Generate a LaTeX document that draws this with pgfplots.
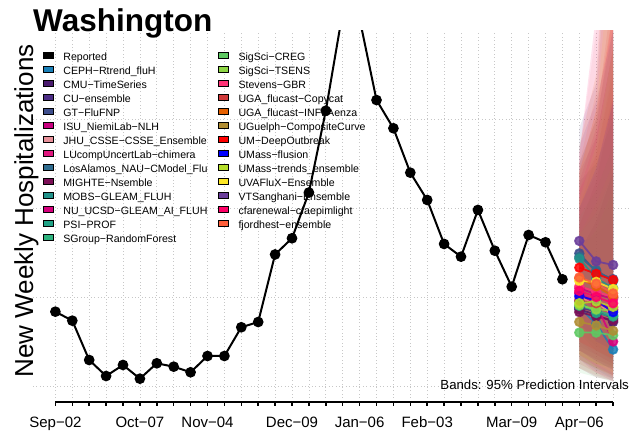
\documentclass[border=0pt]{standalone}
\usepackage{fontspec}
\setmainfont{Liberation Sans}
\usepackage{pgfplots}
\pgfplotsset{compat=1.18}
\definecolor{cCEPH}{HTML}{1A80B8}
\definecolor{cCMU}{HTML}{4A1A6E}
\definecolor{cCU}{HTML}{4B2C85}
\definecolor{cGT}{HTML}{3E4E8C}
\definecolor{cISU}{HTML}{C8007F}
\definecolor{cJHU}{HTML}{E8919A}
\definecolor{cLU}{HTML}{E0177F}
\definecolor{cLA}{HTML}{2E6B8E}
\definecolor{cMIG}{HTML}{7B0F56}
\definecolor{cMOBS}{HTML}{21928A}
\definecolor{cNU}{HTML}{D6007D}
\definecolor{cPSI}{HTML}{20A386}
\definecolor{cSG}{HTML}{2DB27D}
\definecolor{cSSC}{HTML}{5EC962}
\definecolor{cSST}{HTML}{8ED645}
\definecolor{cSTE}{HTML}{FF3377}
\definecolor{cUGAC}{HTML}{D03A3A}
\definecolor{cUGAI}{HTML}{E66101}
\definecolor{cUGU}{HTML}{B08D33}
\definecolor{cUM}{HTML}{FF0000}
\definecolor{cUMF}{HTML}{0000FF}
\definecolor{cUMT}{HTML}{B5DE2B}
\definecolor{cUVA}{HTML}{FDE725}
\definecolor{cVT}{HTML}{6A3D9A}
\definecolor{cCFA}{HTML}{FF0066}
\definecolor{cFJ}{HTML}{FF5F3A}
\begin{document}
\begin{tikzpicture}
\useasboundingbox (0pt,0pt) rectangle (629pt,433pt);
\begin{axis}[
  at={(33pt,35pt)}, anchor=south west, scale only axis,
  width=596pt, height=367pt,
  xmin=-1.325, xmax=33.94, ymin=-13.5, ymax=398.9,
  axis line style={draw=none}, tick style={draw=none},
  xtick={0,...,33}, ytick={0,100,200,300},
  xticklabels={}, yticklabels={},
  xmajorgrids, ymajorgrids,
  grid style={black!22, line width=0.7pt, dash pattern=on 0.7pt off 2.7pt},
  legend columns=2, legend cell align=left,
  legend image code/.code={\fill[#1] (0pt,-0.3pt) rectangle (10pt,6.2pt);},
  legend style={draw=none, fill=none, inner sep=0pt, outer sep=0pt,
    at={(0.01728,0.9433)}, anchor=north west,
    font=\fontsize{10.6}{12}\selectfont,
    row sep=2.35pt, column sep=9.7pt,
    nodes={inner sep=0pt, text height=8pt, text depth=2.5pt},
    /tikz/every even column/.append style={column sep=11pt}},
]
% ---- 95% prediction bands (weeks 31-33) ----
\pgfplotsset{bd/.style={fill=#1, draw=none, fill opacity=0.11, forget plot}}
\addplot[bd=cCEPH] coordinates {(31,30) (32,18) (33,8) (33,190) (32,170) (31,160)} -- cycle;
\addplot[bd=cCMU] coordinates {(31,40) (32,30) (33,22) (33,240) (32,185) (31,150)} -- cycle;
\addplot[bd=cCU] coordinates {(31,30) (32,20) (33,12) (33,600) (32,340) (31,290)} -- cycle;
\addplot[bd=cGT] coordinates {(31,60) (32,45) (33,35) (33,380) (32,280) (31,240)} -- cycle;
\addplot[bd=cISU] coordinates {(31,50) (32,35) (33,25) (33,330) (32,240) (31,200)} -- cycle;
\addplot[bd=cJHU] coordinates {(31,20) (32,10) (33,5) (33,700) (32,400) (31,260)} -- cycle;
\addplot[bd=cLU] coordinates {(31,40) (32,30) (33,20) (33,350) (32,260) (31,220)} -- cycle;
\addplot[bd=cLA] coordinates {(31,70) (32,55) (33,45) (33,300) (32,250) (31,230)} -- cycle;
\addplot[bd=cMIG] coordinates {(31,20) (32,10) (33,6) (33,320) (32,230) (31,180)} -- cycle;
\addplot[bd=cMOBS] coordinates {(31,60) (32,40) (33,28) (33,400) (32,300) (31,250)} -- cycle;
\addplot[bd=cNU] coordinates {(31,30) (32,15) (33,5) (33,420) (32,290) (31,230)} -- cycle;
\addplot[bd=cPSI] coordinates {(31,45) (32,35) (33,25) (33,240) (32,195) (31,170)} -- cycle;
\addplot[bd=cSG] coordinates {(31,35) (32,25) (33,20) (33,270) (32,220) (31,190)} -- cycle;
\addplot[bd=cSSC] coordinates {(31,15) (32,10) (33,5) (33,220) (32,175) (31,150)} -- cycle;
\addplot[bd=cSST] coordinates {(31,35) (32,25) (33,20) (33,250) (32,205) (31,170)} -- cycle;
\addplot[bd=cSTE] coordinates {(31,45) (32,35) (33,25) (33,380) (32,280) (31,220)} -- cycle;
\addplot[bd=cUGAC] coordinates {(31,25) (32,15) (33,8) (33,450) (32,300) (31,250)} -- cycle;
\addplot[bd=cUGAI] coordinates {(31,40) (32,28) (33,18) (33,650) (32,350) (31,270)} -- cycle;
\addplot[bd=cUGU] coordinates {(31,20) (32,12) (33,6) (33,360) (32,260) (31,200)} -- cycle;
\addplot[bd=cUM] coordinates {(31,50) (32,40) (33,30) (33,420) (32,310) (31,240)} -- cycle;
\addplot[bd=cUMF] coordinates {(31,40) (32,28) (33,18) (33,320) (32,245) (31,200)} -- cycle;
\addplot[bd=cUMT] coordinates {(31,30) (32,20) (33,12) (33,380) (32,270) (31,210)} -- cycle;
\addplot[bd=cUVA] coordinates {(31,35) (32,25) (33,15) (33,520) (32,310) (31,240)} -- cycle;
\addplot[bd=cVT] coordinates {(31,70) (32,50) (33,40) (33,400) (32,320) (31,270)} -- cycle;
\addplot[bd=cCFA] coordinates {(31,35) (32,22) (33,12) (33,750) (32,420) (31,260)} -- cycle;
\addplot[bd=cFJ] coordinates {(31,30) (32,20) (33,10) (33,560) (32,330) (31,250)} -- cycle;
% ---- reported ----
\addplot[black, line width=2pt, mark=*, mark size=4.3pt, forget plot] coordinates {
(0,83.5) (1,73.4) (2,29.2) (3,11.2) (4,23.6) (5,8.2) (6,25.5) (7,21.7) (8,15.4)
(9,33.7) (10,33.7) (11,66.0) (12,71.9) (13,147.8) (14,166.0) (15,217.4) (16,309.3)
(17,420.4) (18,412.7) (19,321.3) (20,289.6) (21,239.7) (22,209.0) (23,159.6)
(24,145.3) (25,197.8) (26,152.0) (27,111.6) (28,169.7) (29,161.5) (30,119.9)};
% ---- forecast medians ----
\pgfplotsset{fc/.style={color=#1, line width=1.8pt, mark=*, mark size=4.3pt, opacity=0.85, forget plot}}
\addplot[fc=cCEPH] coordinates {(31,88) (32,70) (33,41)};
\addplot[fc=cCMU] coordinates {(31,86) (32,80) (33,72)};
\addplot[fc=cCU] coordinates {(31,88) (32,84) (33,76)};
\addplot[fc=cGT] coordinates {(31,149) (32,128) (33,120)};
\addplot[fc=cISU] coordinates {(31,110) (32,103) (33,98)};
\addplot[fc=cJHU] coordinates {(31,98) (32,94) (33,80)};
\addplot[fc=cLU] coordinates {(31,105) (32,96) (33,88)};
\addplot[fc=cLA] coordinates {(31,145) (32,130) (33,118)};
\addplot[fc=cMIG] coordinates {(31,83) (32,78) (33,74)};
\addplot[fc=cMOBS] coordinates {(31,143) (32,121) (33,110)};
\addplot[fc=cNU] coordinates {(31,104) (32,92) (33,50)};
\addplot[fc=cPSI] coordinates {(31,95) (32,82) (33,78)};
\addplot[fc=cSG] coordinates {(31,90) (32,85) (33,79)};
\addplot[fc=cSSC] coordinates {(31,60) (32,60) (33,57)};
\addplot[fc=cSST] coordinates {(31,91) (32,86) (33,85)};
\addplot[fc=cSTE] coordinates {(31,112) (32,106) (33,100)};
\addplot[fc=cUGAC] coordinates {(31,96) (32,93) (33,86)};
\addplot[fc=cUGAI] coordinates {(31,121) (32,112) (33,101)};
\addplot[fc=cUGU] coordinates {(31,72) (32,68) (33,62)};
\addplot[fc=cUM] coordinates {(31,133) (32,126) (33,119)};
\addplot[fc=cUMF] coordinates {(31,101) (32,96) (33,83)};
\addplot[fc=cUMT] coordinates {(31,93) (32,95) (33,89)};
\addplot[fc=cUVA] coordinates {(31,118) (32,117) (33,109)};
\addplot[fc=cVT] coordinates {(31,163) (32,140) (33,136)};
\addplot[fc=cCFA] coordinates {(31,107) (32,100) (33,93)};
\addplot[fc=cFJ] coordinates {(31,122) (32,115) (33,104)};
% ---- legend (column-wise order, 2 columns) ----
\addlegendimage{fill=black}\addlegendentry{Reported}
\addlegendimage{fill=cSSC}\addlegendentry{SigSci−CREG}
\addlegendimage{fill=cCEPH}\addlegendentry{CEPH−Rtrend\_fluH}
\addlegendimage{fill=cSST}\addlegendentry{SigSci−TSENS}
\addlegendimage{fill=cCMU}\addlegendentry{CMU−TimeSeries}
\addlegendimage{fill=cSTE}\addlegendentry{Stevens−GBR}
\addlegendimage{fill=cCU}\addlegendentry{CU−ensemble}
\addlegendimage{fill=cUGAC}\addlegendentry{UGA\_flucast−Copycat}
\addlegendimage{fill=cGT}\addlegendentry{GT−FluFNP}
\addlegendimage{fill=cUGAI}\addlegendentry{UGA\_flucast−INFLAenza}
\addlegendimage{fill=cISU}\addlegendentry{ISU\_NiemiLab−NLH}
\addlegendimage{fill=cUGU}\addlegendentry{UGuelph−CompositeCurve}
\addlegendimage{fill=cJHU}\addlegendentry{JHU\_CSSE−CSSE\_Ensemble}
\addlegendimage{fill=cUM}\addlegendentry{UM−DeepOutbreak}
\addlegendimage{fill=cLU}\addlegendentry{LUcompUncertLab−chimera}
\addlegendimage{fill=cUMF}\addlegendentry{UMass−flusion}
\addlegendimage{fill=cLA}\addlegendentry{LosAlamos\_NAU−CModel\_Flu}
\addlegendimage{fill=cUMT}\addlegendentry{UMass−trends\_ensemble}
\addlegendimage{fill=cMIG}\addlegendentry{MIGHTE−Nsemble}
\addlegendimage{fill=cUVA}\addlegendentry{UVAFluX−Ensemble}
\addlegendimage{fill=cMOBS}\addlegendentry{MOBS−GLEAM\_FLUH}
\addlegendimage{fill=cVT}\addlegendentry{VTSanghani−Ensemble}
\addlegendimage{fill=cNU}\addlegendentry{NU\_UCSD−GLEAM\_AI\_FLUH}
\addlegendimage{fill=cCFA}\addlegendentry{cfarenewal−cfaepimlight}
\addlegendimage{fill=cPSI}\addlegendentry{PSI−PROF}
\addlegendimage{fill=cFJ}\addlegendentry{fjordhest−ensemble}
\addlegendimage{fill=cSG}\addlegendentry{SGroup−RandomForest}
\node[anchor=base east, inner sep=0pt, font=\fontsize{13.2}{13.2}\selectfont] at (rel axis cs:1,0.0218) {Bands: 95\% Prediction Intervals};
\end{axis}
\begin{axis}[
  at={(55.4pt,31.3pt)}, anchor=south west, scale only axis,
  width=557.7pt, height=10pt,
  xmin=0, xmax=33, ymin=0, ymax=1,
  axis x line=bottom, axis y line=none,
  x axis line style={line width=2pt, -},
  xtick={0,...,33},
  xticklabels={Sep−02,,,,,Oct−07,,,,Nov−04,,,,,Dec−09,,,,Jan−06,,,,Feb−03,,,,,Mar−09,,,,Apr−06,,},
  tick align=outside, major tick length=4pt,
  xtick style={line width=1.5pt, black},
  xticklabel style={font=\fontsize{15}{15}\selectfont, inner sep=0pt, anchor=north, yshift=-11pt},
]
\end{axis}
\node[anchor=base west, inner sep=0pt, font=\bfseries\fontsize{31.5}{31.5}\selectfont] at (33pt,401pt) {Washington};
\node[rotate=90, anchor=base, inner sep=0pt, font=\fontsize{26}{26}\selectfont] at (33pt,222pt) {New Weekly Hospitalizations};
\end{tikzpicture}
\end{document}
